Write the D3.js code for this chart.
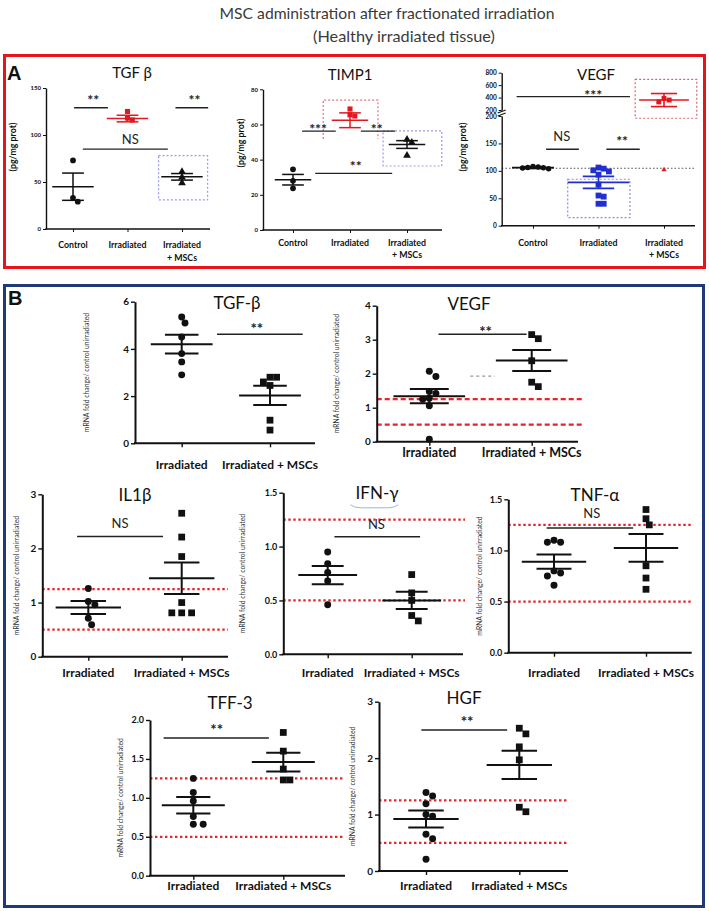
<!DOCTYPE html>
<html><head><meta charset="utf-8">
<script src="https://cdn.jsdelivr.net/npm/d3@7/dist/d3.min.js"></script>
<style>html,body{margin:0;padding:0;background:#fff;}svg{display:block;}</style>
</head><body>
<script>
// ---------------- DATA ----------------
const titleLines = ["MSC administration after fractionated irradiation", "(Healthy irradiated tissue)"];
const catsA = ["Control", "Irradiated", "Irradiated + MSCs"];
const catsB = ["Irradiated", "Irradiated + MSCs"];
const yLabelA = "(pg/mg prot)";
const yLabelB = "mRNA fold change/ control unirradiated";

// Panel A (protein, pg/mg prot)
const aTgfTicks = [0, 50, 100, 150];
const aTgfPoints = [[73, 29, 33], [125, 116, 118], [61, 55, 49]];
const aTgfMean = [45, 117.5, 55.5];
const aTgfSem = [14.5, 3.5, 3.5];

const aTimpTicks = [0, 20, 40, 60, 80];
const aTimpPoints = [[34.5, 28, 23.7], [68.8, 65.5, 64.8], [51.5, 49.8, 42.4]];
const aTimpMean = [28.6, 62.4, 48.6];
const aTimpSem = [3, 4.2, 2.2];

const aVegfTicksLow = [0, 50, 100, 150, 200];
const aVegfTicksHigh = [200, 400, 600, 800];
const aVegfPoints = [[104, 105, 106, 107, 105.5, 108], [106, 104, 101, 99, 93, 75, 55, 53, 40, 40], [330, 360, 385]];
const aVegfMean = [105.8, 79, 360];
const aVegfSem = [1.5, 11, 105];
const aVegfStray = [102];
const aVegfBaseline = 104.7;

// Panel B (mRNA fold change)
const bRefLines = [1.25, 0.5];

const bTgfTicks = [0, 2, 4, 6];
const bTgfIrr = [5.35, 5.1, 4.5, 3.8, 3.45, 2.9];
const bTgfMsc = [2.8, 2.8, 2.6, 2.45, 0.98, 0.56];
const bTgfMean = [4.2, 2.03];
const bTgfSem = [0.4, 0.41];

const bVegfTicks = [0, 1, 2, 3, 4];
const bVegfIrr = [2.07, 1.92, 1.48, 1.42, 1.28, 1.25, 1.06, 0.07];
const bVegfMsc = [3.15, 3.03, 2.38, 1.75, 1.62];
const bVegfMean = [1.34, 2.39];
const bVegfSem = [0.21, 0.31];

const bIl1Ticks = [0, 1, 2, 3];
const bIl1Irr = [1.26, 1.02, 0.96, 0.71, 0.59];
const bIl1Msc = [2.65, 2.21, 1.85, 1.0, 0.81, 0.81, 0.81];
const bIl1Mean = [0.91, 1.45];
const bIl1Sem = [0.12, 0.29];

const bIfnTicks = [0, 0.5, 1.0, 1.5];
const bIfnIrr = [0.95, 0.84, 0.76, 0.68, 0.46];
const bIfnMsc = [0.74, 0.57, 0.5, 0.36, 0.31];
const bIfnMean = [0.735, 0.5];
const bIfnSem = [0.085, 0.08];

const bTnfTicks = [0, 0.5, 1.0, 1.5];
const bTnfIrr = [1.1, 1.08, 1.08, 0.8, 0.78, 0.75, 0.66];
const bTnfMsc = [1.4, 1.31, 1.25, 0.85, 0.73, 0.62];
const bTnfMean = [0.89, 1.025];
const bTnfSem = [0.07, 0.135];

const bTffTicks = [0, 0.5, 1.0, 1.5, 2.0];
const bTffIrr = [1.25, 1.07, 0.96, 0.76, 0.66, 0.66];
const bTffMsc = [1.84, 1.6, 1.37, 1.23, 1.23];
const bTffMean = [0.905, 1.46];
const bTffSem = [0.105, 0.12];

const bHgfTicks = [0, 1, 2, 3];
const bHgfIrr = [1.39, 1.33, 1.19, 1.0, 0.97, 0.65, 0.57, 0.21];
const bHgfMsc = [2.53, 2.43, 2.2, 1.97, 1.13, 1.05];
const bHgfMean = [0.92, 1.88];
const bHgfSem = [0.15, 0.25];

// ---------------- DRAWING ----------------
const FONT = "Lato, 'Open Sans', sans-serif";
const RED = "#e3171f", BLUE = "#1f2fd0", INK = "#111";
const svg = d3.select("body").append("svg").attr("width", 709).attr("height", 911)
  .style("font-family", FONT);

function fit(sel, width) {
  const w = sel.node().getComputedTextLength();
  sel.attr("font-size", parseFloat(sel.attr("font-size")) * width / w);
}

const t1 = svg.append("text").attr("x", 387).attr("y", 19).attr("text-anchor", "middle")
  .attr("font-size", 14).attr("fill", "#3a3a3a").text(titleLines[0]);
fit(t1, 335);
const t2 = svg.append("text").attr("x", 404).attr("y", 42).attr("text-anchor", "middle")
  .attr("font-size", 14).attr("fill", "#3a3a3a").text(titleLines[1]);
fit(t2, 182);

// panel frames
svg.append("rect").attr("x", 4.5).attr("y", 55.5).attr("width", 700).attr("height", 212)
  .attr("fill", "none").attr("stroke", "#e8141c").attr("stroke-width", 3);
svg.append("rect").attr("x", 4.5).attr("y", 285.5).attr("width", 699).attr("height", 621)
  .attr("fill", "none").attr("stroke", "#1e3a78").attr("stroke-width", 3);
svg.append("text").attr("x", 7).attr("y", 80).attr("font-size", 20).attr("font-weight", "bold")
  .attr("font-family", "Liberation Sans, Arial, sans-serif").attr("fill", INK).text("A");
svg.append("text").attr("x", 8).attr("y", 305).attr("font-size", 20).attr("font-weight", "bold")
  .attr("font-family", "Liberation Sans, Arial, sans-serif").attr("fill", INK).text("B");

function swarm(vals, yS, cx, spacing) {
  const placed = [], out = new Array(vals.length);
  vals.map((v, i) => ({ v, i })).sort((a, b) => b.v - a.v).forEach(p => {
    const py = yS(p.v);
    let off = 0;
    for (let k = 0; k < 30; k++) {
      const o = k === 0 ? 0 : (k % 2 ? 1 : -1) * Math.ceil(k / 2) * spacing * 0.5;
      if (placed.every(q => Math.hypot(q[0] - (cx + o), q[1] - py) >= spacing)) { off = o; break; }
    }
    placed.push([cx + off, py]);
    out[p.i] = [cx + off, py];
  });
  return out;
}

function drawPoints(g, vals, yS, cx, sym, size, color, spacing) {
  g.append("g").selectAll("path").data(swarm(vals, yS, cx, spacing)).join("path")
    .attr("transform", d => `translate(${d[0]},${d[1]})`)
    .attr("d", d3.symbol().type(sym).size(size)())
    .attr("fill", color);
}

function drawErr(g, yS, cx, mean, sem, hm, hc, color, w) {
  const m = g.append("g").attr("stroke", color).attr("stroke-width", w);
  m.append("line").attr("x1", cx - hm).attr("x2", cx + hm).attr("y1", yS(mean)).attr("y2", yS(mean));
  [mean - sem, mean + sem].forEach(v => m.append("line").attr("x1", cx - hc).attr("x2", cx + hc)
    .attr("y1", yS(v)).attr("y2", yS(v)));
  m.append("line").attr("x1", cx).attr("x2", cx).attr("y1", yS(mean - sem)).attr("y2", yS(mean + sem));
}

function drawYAxis(g, scale, x, ticks, fmt, fs, sw, ts) {
  const a = g.append("g").attr("transform", `translate(${x},0)`)
    .call(d3.axisLeft(scale).tickValues(ticks).tickFormat(fmt).tickSize(ts).tickSizeOuter(0).tickPadding(2));
  a.attr("font-family", FONT).attr("font-size", fs).attr("font-weight", "bold");
  a.select(".domain").attr("stroke", INK).attr("stroke-width", sw);
  a.selectAll(".tick line").attr("stroke", INK).attr("stroke-width", Math.max(1, sw * 0.7));
  a.selectAll(".tick text").attr("fill", INK);
  return a;
}

function drawXAxis(g, cats, c0, c1, ax, xEnd, y0, sw, ts) {
  const xp = d3.scalePoint().domain(cats).range([c0, c1]);
  const a = g.append("g").attr("transform", `translate(0,${y0})`)
    .call(d3.axisBottom(xp).tickSize(ts).tickFormat(""));
  a.select(".domain").remove();
  a.selectAll(".tick line").attr("stroke", INK).attr("stroke-width", Math.max(1, sw * 0.7));
  g.append("line").attr("x1", ax - sw / 2).attr("x2", xEnd).attr("y1", y0).attr("y2", y0)
    .attr("stroke", INK).attr("stroke-width", sw);
  return xp;
}

function drawSig(g, xi, yS, s, fsStar, fsNS, lw) {
  g.append("line").attr("x1", xi(s.from)).attr("x2", xi(s.to)).attr("y1", yS(s.at)).attr("y2", yS(s.at))
    .attr("stroke", "#222").attr("stroke-width", lw);
  const star = s.text.startsWith("*");
  g.append("text").attr("x", xi(s.tx)).attr("y", yS(s.ty)).attr("text-anchor", "middle")
    .attr("dy", star ? "0.6em" : "0.36em").attr("font-size", star ? fsStar : fsNS)
    .attr("font-weight", star ? "bold" : "normal").attr("fill", "#222").text(s.text);
}

function dashedBox(g, xi, yS, b) {
  const x0 = xi(b.x0), x1 = xi(b.x1), yt = yS(b.top), yb = yS(b.bottom);
  const d = b.open ? `M${x0},${yb}V${yt}H${x1}V${yb}` : `M${x0},${yt}H${x1}V${yb}H${x0}Z`;
  g.append("path").attr("d", d).attr("fill", "none").attr("stroke", b.color)
    .attr("stroke-width", 1.2).attr("stroke-dasharray", "2,2");
}

// ----- Panel A generic -----
const symA = [d3.symbolCircle, d3.symbolSquare, d3.symbolTriangle];
function drawA(c) {
  const g = svg.append("g");
  const y = d3.scaleLinear().domain([0, c.max]).range([c.y0, c.yTop]);
  const xi = d3.scaleLinear().domain([0, 2]).range([c.c0, c.c2]);
  c.boxes.forEach(b => dashedBox(g, xi, y, b));
  drawYAxis(g, y, c.ax, c.ticks, d3.format("d"), 6, 1.4, 3);
  const xp = drawXAxis(g, catsA, c.c0, c.c2, c.ax, c.xEnd, c.y0, 1.4, 3);
  catsA.forEach(k => {
    const parts = k.includes(" + ") ? [k.split(" + ")[0], "+ " + k.split(" + ")[1]] : [k];
    parts.forEach((p, j) => g.append("text").attr("x", xp(k)).attr("y", c.labelY + j * 12.5).attr("dy", "0.35em")
      .attr("text-anchor", "middle").attr("font-size", 8.8).attr("font-weight", "bold").attr("fill", INK).text(p));
  });
  g.append("text").attr("x", c.title[0]).attr("y", c.title[1]).attr("dy", "0.35em").attr("text-anchor", "middle")
    .attr("font-size", 15).attr("fill", INK).text(c.name);
  g.append("text").attr("transform", `translate(${c.ylab[0]},${c.ylab[1]}) rotate(-90)`).attr("dy", "0.35em")
    .attr("text-anchor", "middle").attr("font-size", 8.8).attr("font-weight", "bold").attr("fill", INK).text(yLabelA);
  c.sig.forEach(s => drawSig(g, xi, y, s, 14, 13, 1.3));
  c.points.forEach((vals, i) => drawPoints(g, vals, y, xi(i), symA[i], 26, c.colors[i], 4.8));
  c.points.forEach((vals, i) => drawErr(g, y, xi(i), c.mean[i], c.sem[i], c.hm * (c.c2 - c.c0) / 2,
    c.hc * (c.c2 - c.c0) / 2, c.colors[i], 1.5));
}

drawA({
  name: "TGF β", max: 150, ticks: aTgfTicks, points: aTgfPoints, mean: aTgfMean, sem: aTgfSem,
  ax: 46, xEnd: 210, yTop: 88, y0: 229, c0: 73, c2: 182, labelY: 245, ylab: [13, 147], title: [132, 73],
  colors: [INK, RED, INK], hm: 0.38, hc: 0.2,
  sig: [{ from: 0.02, to: 0.64, at: 129, text: "**", tx: 0.37, ty: 140.5 },
        { from: 1.88, to: 2.48, at: 129, text: "**", tx: 2.23, ty: 140.5 },
        { from: 0.18, to: 1.74, at: 85, text: "NS", tx: 1.05, ty: 95.7 }],
  boxes: [{ x0: 1.57, x1: 2.47, top: 78, bottom: 31, color: "#9a9af0" }]
});

drawA({
  name: "TIMP1", max: 80, ticks: aTimpTicks, points: aTimpPoints, mean: aTimpMean, sem: aTimpSem,
  ax: 263, xEnd: 442, yTop: 89.3, y0: 230, c0: 293, c2: 407, labelY: 242.5, ylab: [241, 143], title: [350, 75],
  colors: [INK, RED, INK], hm: 0.32, hc: 0.19,
  sig: [{ from: 0.16, to: 0.75, at: 56.2, text: "***", tx: 0.44, ty: 59.5 },
        { from: 1.19, to: 1.79, at: 56.2, text: "**", tx: 1.47, ty: 59.5 },
        { from: 0.39, to: 1.74, at: 32.2, text: "**", tx: 1.1, ty: 38.3 }],
  boxes: [{ x0: 0.53, x1: 1.49, top: 73.9, bottom: 51.7, color: "#e07878", open: true },
          { x0: 1.58, x1: 2.61, top: 56.4, bottom: 36.4, color: "#9a9af0" }]
});

// ----- Panel A VEGF (broken axis) -----
(function () {
  const c = { ax: 501.7, xEnd: 695, c0: 533, c2: 664 };
  const g = svg.append("g");
  const yLo = d3.scaleLinear().domain([0, 200]).range([225.7, 116]);
  const yHi = d3.scaleLinear().domain([200, 800]).range([110, 72.7]);
  const xi = d3.scaleLinear().domain([0, 2]).range([c.c0, c.c2]);
  dashedBox(g, xi, yHi, { x0: 1.56, x1: 2.5, top: 693, bottom: 67, color: "#d06a6a" });
  dashedBox(g, xi, yLo, { x0: 0.53, x1: 1.48, top: 84.7, bottom: 14.6, color: "#8a8ae8" });
  g.append("line").attr("x1", c.ax).attr("x2", c.xEnd).attr("y1", yLo(aVegfBaseline)).attr("y2", yLo(aVegfBaseline))
    .attr("stroke", "#555").attr("stroke-width", 1.1).attr("stroke-dasharray", "1.6,2");
  drawYAxis(g, yLo, c.ax, aVegfTicksLow, d3.format("d"), 6.5, 1.4, 3);
  drawYAxis(g, yHi, c.ax, aVegfTicksHigh, d3.format("d"), 6.5, 1.4, 3);
  [111.5, 114.5].forEach(yy => g.append("line").attr("x1", c.ax - 4).attr("x2", c.ax + 4)
    .attr("y1", yy + 1.5).attr("y2", yy - 1.5).attr("stroke", INK).attr("stroke-width", 1.1));
  const xp = drawXAxis(g, catsA, c.c0, c.c2, c.ax, c.xEnd, 225.7, 1.4, 3);
  catsA.forEach(k => {
    const parts = k.includes(" + ") ? [k.split(" + ")[0], "+ " + k.split(" + ")[1]] : [k];
    parts.forEach((p, j) => g.append("text").attr("x", xp(k)).attr("y", 242.5 + j * 12.5).attr("dy", "0.35em")
      .attr("text-anchor", "middle").attr("font-size", 8.8).attr("font-weight", "bold").attr("fill", INK).text(p));
  });
  g.append("text").attr("x", 596).attr("y", 75).attr("dy", "0.35em").attr("text-anchor", "middle")
    .attr("font-size", 15).attr("fill", INK).text("VEGF");
  g.append("text").attr("transform", "translate(463,147) rotate(-90)").attr("dy", "0.35em")
    .attr("text-anchor", "middle").attr("font-size", 8.8).attr("font-weight", "bold").attr("fill", INK).text(yLabelA);
  drawSig(g, xi, yHi, { from: -0.25, to: 1.48, at: 414, text: "***", tx: 0.92, ty: 494 }, 14, 13, 1.3);
  drawSig(g, xi, yLo, { from: 0.2, to: 0.7, at: 139.4, text: "NS", tx: 0.44, ty: 163.7 }, 14, 13, 1.3);
  drawSig(g, xi, yLo, { from: 1.12, to: 1.63, at: 139.4, text: "**", tx: 1.36, ty: 160 }, 14, 13, 1.3);
  const colors = [INK, BLUE, RED];
  const scales = [yLo, yLo, yHi];
  aVegfPoints.forEach((vals, i) => drawPoints(g, vals, scales[i], xi(i), i === 0 ? d3.symbolCircle : d3.symbolSquare,
    i === 1 ? 34 : 24, colors[i], 5.2));
  drawPoints(g, aVegfStray, yLo, xi(2), d3.symbolTriangle, 12, RED, 4);
  const hm = [0.32, 0.47, 0.38], hc = [0.16, 0.24, 0.2];
  aVegfPoints.forEach((vals, i) => drawErr(g, scales[i], xi(i), aVegfMean[i], aVegfSem[i],
    hm[i] * (c.c2 - c.c0) / 2, hc[i] * (c.c2 - c.c0) / 2, colors[i], 1.6));
})();

// ----- Panel B -----
function drawB(c) {
  const g = svg.append("g");
  const y = d3.scaleLinear().domain([0, c.max]).range([c.y0, c.yTop]);
  const xi = d3.scaleLinear().domain([0, 1]).range([c.c0, c.c1]);
  if (c.ref) bRefLines.forEach(v => g.append("line").attr("x1", c.ax).attr("x2", c.ref.end)
    .attr("y1", y(v)).attr("y2", y(v)).attr("stroke", "#e8232a").attr("stroke-width", 2.2)
    .attr("stroke-dasharray", c.ref.dash || "2.4,2.6"));
  drawYAxis(g, y, c.ax, c.ticks, d3.format(c.fmt), c.fs, 2, 4);
  const xp = drawXAxis(g, catsB, c.c0, c.c1, c.ax, c.xEnd, c.y0, 2, 4);
  catsB.forEach(k => g.append("text").attr("x", xp(k)).attr("y", c.labelY).attr("dy", "0.35em")
    .attr("text-anchor", "middle").attr("font-size", c.lfs || 12).attr("font-weight", "bold").attr("fill", INK).text(k));
  g.append("text").attr("x", c.title[0]).attr("y", c.title[1]).attr("dy", "0.35em").attr("text-anchor", "middle")
    .attr("font-size", 17).attr("fill", INK).text(c.name);
  g.append("text").attr("transform", `translate(${c.ylabX},${(c.y0 + c.yTop) / 2}) rotate(-90)`).attr("dy", "0.35em")
    .attr("text-anchor", "middle").attr("font-size", 6.8).attr("fill", "#333").text(yLabelB);
  if (c.grey) g.append("line").attr("x1", xi(c.grey.from)).attr("x2", xi(c.grey.to)).attr("y1", y(c.grey.at))
    .attr("y2", y(c.grey.at)).attr("stroke", "#999").attr("stroke-width", 1.3).attr("stroke-dasharray", "3,3");
  if (c.arc) {
    const x0 = xi(c.arc.from), x1 = xi(c.arc.to), yy = y(c.arc.at);
    g.append("path").attr("d", `M${x0},${yy - 3}Q${x0 + 4},${yy} ${x0 + 10},${yy}H${x1 - 10}Q${x1 - 4},${yy} ${x1},${yy - 3}`)
      .attr("fill", "none").attr("stroke", "#8fbbe0").attr("stroke-width", 1);
  }
  drawSig(g, xi, y, c.sig, 15, 13, 1.5);
  [c.irr, c.msc].forEach((vals, i) => drawPoints(g, vals, y, xi(i), i === 0 ? d3.symbolCircle : d3.symbolSquare,
    i === 0 ? 38 : 46, INK, 6.6));
  const d = c.c1 - c.c0;
  [0, 1].forEach(i => drawErr(g, y, xi(i), c.mean[i], c.sem[i], 0.35 * d, 0.19 * d, INK, 2));
}

const bCharts = [
  { name: "TGF-β", irr: bTgfIrr, msc: bTgfMsc, mean: bTgfMean, sem: bTgfSem, ticks: bTgfTicks, max: 6, fmt: "d", fs: 10,
    ax: 135, xEnd: 315, yTop: 301.7, y0: 443.3, c0: 181.7, c1: 270, labelY: 465, ylabX: 87, title: [237, 303],
    sig: { from: 0.40, to: 1.37, at: 4.62, text: "**", tx: 0.85, ty: 5.02 } },
  { name: "VEGF", irr: bVegfIrr, msc: bVegfMsc, mean: bVegfMean, sem: bVegfSem, ticks: bVegfTicks, max: 4, fmt: "d", fs: 10,
    ax: 376.7, xEnd: 578, yTop: 305.7, y0: 441.7, c0: 429.3, c1: 531.7, labelY: 453, ylabX: 337, title: [469, 304],
    lfs: 12.5, ref: { end: 583, dash: "5,3" }, grey: { from: 0.40, to: 0.64, at: 1.93 },
    sig: { from: 0.09, to: 0.95, at: 3.16, text: "**", tx: 0.55, ty: 3.34 } },
  { name: "IL1β", irr: bIl1Irr, msc: bIl1Msc, mean: bIl1Mean, sem: bIl1Sem, ticks: bIl1Ticks, max: 3, fmt: "d", fs: 10,
    ax: 42.3, xEnd: 228, yTop: 494.3, y0: 656.7, c0: 88.3, c1: 181.7, labelY: 673, ylabX: 17, title: [135, 495],
    ref: { end: 228 }, sig: { from: -0.12, to: 0.80, at: 2.22, text: "NS", tx: 0.34, ty: 2.47 } },
  { name: "IFN-γ", irr: bIfnIrr, msc: bIfnMsc, mean: bIfnMean, sem: bIfnSem, ticks: bIfnTicks, max: 1.5, fmt: ".1f", fs: 9,
    ax: 283.3, xEnd: 463, yTop: 492.7, y0: 654.3, c0: 327.7, c1: 411.7, labelY: 673, ylabX: 243, title: [377, 493],
    ref: { end: 465 }, arc: { from: 0.27, to: 0.84, at: 1.36 },
    sig: { from: 0.08, to: 1.10, at: 1.09, text: "NS", tx: 0.58, ty: 1.21 } },
  { name: "TNF-α", irr: bTnfIrr, msc: bTnfMsc, mean: bTnfMean, sem: bTnfSem, ticks: bTnfTicks, max: 1.5, fmt: ".1f", fs: 9,
    ax: 508.3, xEnd: 691.7, yTop: 499.3, y0: 652.7, c0: 554, c1: 646, labelY: 673, ylabX: 480, title: [595, 495],
    ref: { end: 693 }, sig: { from: -0.08, to: 0.86, at: 1.22, text: "NS", tx: 0.41, ty: 1.36 } },
  { name: "TFF-3", irr: bTffIrr, msc: bTffMsc, mean: bTffMean, sem: bTffSem, ticks: bTffTicks, max: 2, fmt: ".1f", fs: 9,
    ax: 150, xEnd: 345, yTop: 720, y0: 875.7, c0: 193.3, c1: 283.3, labelY: 886, ylabX: 121, title: [230, 703],
    ref: { end: 345 }, sig: { from: -0.33, to: 0.84, at: 1.77, text: "**", tx: 0.26, ty: 1.92 } },
  { name: "HGF", irr: bHgfIrr, msc: bHgfMsc, mean: bHgfMean, sem: bHgfSem, ticks: bHgfTicks, max: 3, fmt: "d", fs: 10,
    ax: 379, xEnd: 568, yTop: 701.7, y0: 871, c0: 426, c1: 519.3, labelY: 886, ylabX: 353, title: [464, 698],
    ref: { end: 568 }, sig: { from: -0.05, to: 0.87, at: 2.5, text: "**", tx: 0.44, ty: 2.71 } }
];
bCharts.forEach(drawB);
</script>
</body></html>
